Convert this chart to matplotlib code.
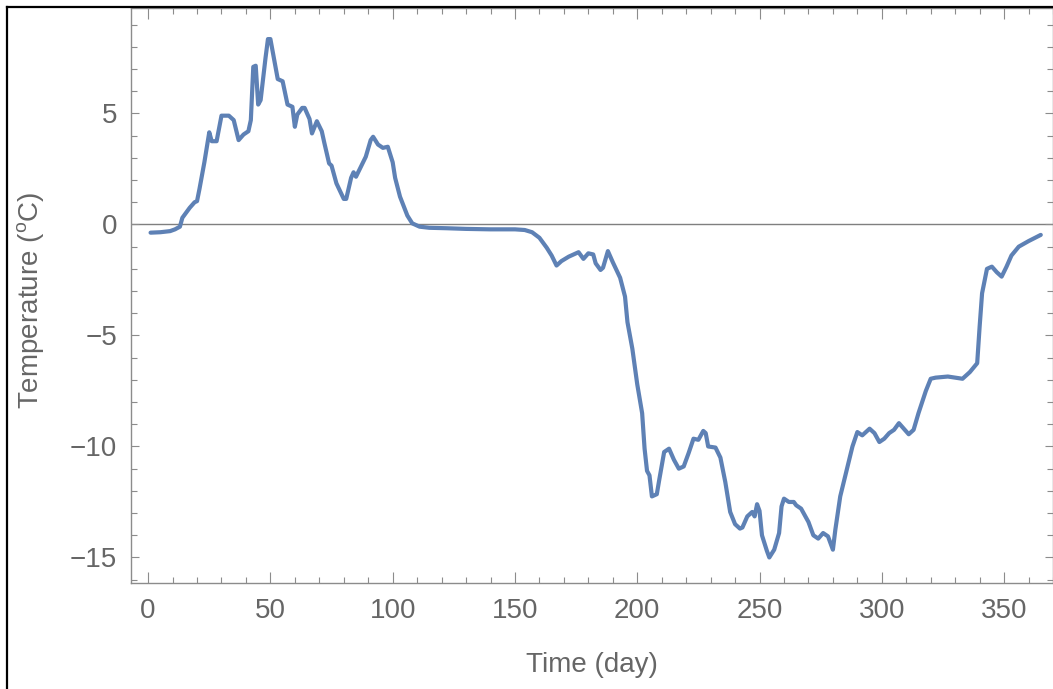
import numpy as np
import matplotlib
matplotlib.use('Agg')
import matplotlib.pyplot as plt
from matplotlib.lines import Line2D
from matplotlib.ticker import MultipleLocator

# daily temperature
days = [1, 5, 9, 11, 13, 14, 16, 17, 19, 20, 21, 23, 25, 26, 28, 30, 33, 35, 37, 39,
        41, 42, 43, 44, 45, 46, 48, 49, 50, 53, 55, 57, 59, 60, 61, 63, 64, 66, 67, 69,
        71, 72, 74, 75, 77, 80, 81, 83, 84, 85, 87, 89, 91, 92, 94, 96, 98, 100, 101, 103,
        106, 108, 111, 115, 122, 130, 140, 150, 154, 157, 160, 163, 165, 167, 169, 172, 174, 176, 178, 180,
        182, 183, 185, 186, 188, 190, 193, 195, 196, 198, 199, 200, 202, 203, 204, 205, 206, 208, 209, 211,
        213, 215, 217, 219, 221, 223, 225, 227, 228, 229, 232, 234, 236, 238, 240, 242, 243, 245, 247, 248,
        249, 250, 251, 253, 254, 256, 258, 259, 260, 262, 264, 265, 267, 269, 270, 272, 274, 276, 278, 280,
        281, 283, 284, 286, 288, 290, 292, 295, 297, 299, 301, 303, 305, 307, 309, 311, 313, 315, 318, 320,
        322, 327, 333, 336, 339, 340, 341, 343, 345, 347, 349, 351, 353, 356, 360, 365]
temp = [-0.37, -0.35, -0.3, -0.22, -0.1, 0.3, 0.6, 0.75, 1.0, 1.05, 1.6, 2.8, 4.15, 3.75, 3.75, 4.9, 4.9, 4.7, 3.8, 4.05,
        4.2, 4.7, 7.1, 7.15, 5.4, 5.6, 7.5, 8.35, 8.35, 6.55, 6.45, 5.4, 5.3, 4.4, 4.95, 5.25, 5.25, 4.75, 4.1, 4.65,
        4.2, 3.7, 2.75, 2.65, 1.85, 1.15, 1.15, 2.1, 2.35, 2.15, 2.6, 3.05, 3.8, 3.95, 3.6, 3.45, 3.5, 2.8, 2.1, 1.25,
        0.4, 0.05, -0.1, -0.15, -0.17, -0.2, -0.22, -0.22, -0.25, -0.35, -0.6, -1.05, -1.4, -1.85, -1.65, -1.45, -1.35, -1.25, -1.55, -1.3,
        -1.35, -1.75, -2.05, -1.95, -1.2, -1.7, -2.4, -3.25, -4.4, -5.6, -6.4, -7.2, -8.5, -10.1, -11.1, -11.3, -12.25, -12.15, -11.5, -10.25,
        -10.1, -10.6, -11.0, -10.9, -10.3, -9.65, -9.7, -9.3, -9.4, -10.0, -10.05, -10.5, -11.6, -12.95, -13.5, -13.7, -13.65, -13.15, -12.95, -13.15,
        -12.6, -12.9, -14.0, -14.7, -15.0, -14.65, -13.9, -12.7, -12.35, -12.5, -12.5, -12.65, -12.8, -13.2, -13.4, -14.0, -14.15, -13.9, -14.05, -14.65,
        -13.75, -12.25, -11.8, -10.9, -10.0, -9.35, -9.5, -9.2, -9.4, -9.8, -9.65, -9.4, -9.25, -8.95, -9.2, -9.45, -9.25, -8.5, -7.5, -6.95,
        -6.9, -6.85, -6.95, -6.65, -6.25, -4.6, -3.1, -2.0, -1.9, -2.15, -2.35, -1.9, -1.4, -1.0, -0.75, -0.47]

xticks = [0, 50, 100, 150, 200, 250, 300, 350]
yticks = [-15, -10, -5, 0, 5]

plt.rcParams['font.family'] = ['Liberation Sans', 'DejaVu Sans']

grey = '#666666'
frame = '#8c8c8c'

fig = plt.figure(figsize=(10.53, 6.89), dpi=100)
ax = fig.add_axes([131/1053, 106/689, 922/1053, 575/689])

ax.axhline(0, color='#7f7f7f', lw=1.0, zorder=1)
ax.plot(days, temp, color='#5e81b5', lw=3.0, solid_joinstyle='round',
        solid_capstyle='round', zorder=2)

ax.set_xlim(-7, 370)
ax.set_ylim(-16.15, 9.75)
ax.set_xticks(xticks)
ax.set_yticks(yticks)
ax.xaxis.set_minor_locator(MultipleLocator(10))
ax.yaxis.set_minor_locator(MultipleLocator(1))

for s in ax.spines.values():
    s.set_color(frame)
    s.set_linewidth(1.0)

ax.tick_params(which='both', direction='in', top=True, right=True, color=frame,
               width=0.8, labelcolor=grey, labelsize=20)
ax.tick_params(axis='x', which='major', length=8, pad=11)
ax.tick_params(axis='x', which='minor', length=4)
ax.tick_params(axis='y', which='major', length=6, pad=10)
ax.tick_params(axis='y', which='minor', length=4)

ax.set_xlabel('Time (day)', fontsize=20, color=grey, va='center')
ax.xaxis.set_label_coords(0.5, -0.1426)
ax.set_ylabel('Temperature ($\\mathregular{^o}$C)', fontsize=20, color=grey, va='center')
ax.yaxis.set_label_coords(-0.1095, 0.492)

# black screenshot border on top and left
fig.add_artist(Line2D([7/1053, 1], [1 - 7/689, 1 - 7/689], color='black', lw=1.6))
fig.add_artist(Line2D([7/1053, 7/1053], [0, 1 - 7/689], color='black', lw=1.6))

fig.savefig('out.png', dpi=100)
